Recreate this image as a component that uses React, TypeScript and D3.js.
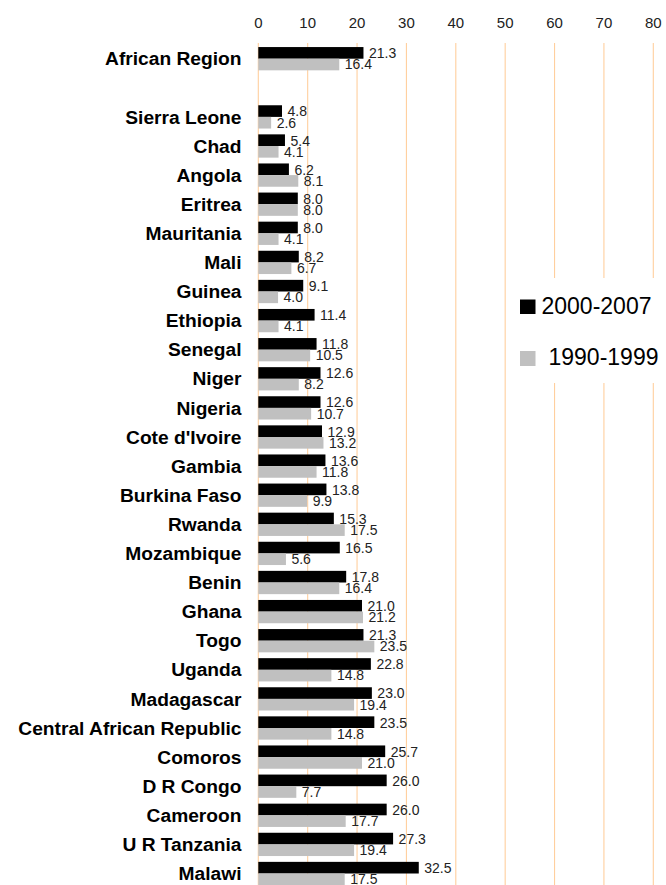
import React from "react";
import * as d3 from "d3";

const categories = [
  "African Region", "", "Sierra Leone", "Chad", "Angola", "Eritrea", "Mauritania", "Mali",
  "Guinea", "Ethiopia", "Senegal", "Niger", "Nigeria", "Cote d'Ivoire", "Gambia",
  "Burkina Faso", "Rwanda", "Mozambique", "Benin", "Ghana", "Togo", "Uganda",
  "Madagascar", "Central African Republic", "Comoros", "D R Congo", "Cameroon",
  "U R Tanzania", "Malawi",
];
const values2000 = [
  21.3, null, 4.8, 5.4, 6.2, 8.0, 8.0, 8.2, 9.1, 11.4, 11.8, 12.6, 12.6, 12.9, 13.6,
  13.8, 15.3, 16.5, 17.8, 21.0, 21.3, 22.8, 23.0, 23.5, 25.7, 26.0, 26.0, 27.3, 32.5,
];
const values1990 = [
  16.4, null, 2.6, 4.1, 8.1, 8.0, 4.1, 6.7, 4.0, 4.1, 10.5, 8.2, 10.7, 13.2, 11.8,
  9.9, 17.5, 5.6, 16.4, 21.2, 23.5, 14.8, 19.4, 14.8, 21.0, 7.7, 17.7, 19.4, 17.5,
];
const xTicks = [0, 10, 20, 30, 40, 50, 60, 70, 80];
const seriesNames = ["2000-2007", "1990-1999"];

const W = 666;
const H = 885;
const FONT = "Liberation Sans, Arial, sans-serif";

export default function App() {
  const x = d3.scaleLinear().domain([0, 80]).range([258.3, 653.3]);
  const keys = categories.map((c, i) => `${i}|${c}`);
  const y = d3
    .scaleBand<string>()
    .domain(keys)
    .range([44.15, 44.15 + 29.1 * categories.length])
    .paddingInner(0.2)
    .paddingOuter(0.1);
  const bw = y.bandwidth();
  const half = bw / 2;

  return (
    <svg
      width={W}
      height={H}
      style={{ position: "absolute", left: 0, top: 0, background: "#fff", fontFamily: FONT }}
    >
      <rect x={0} y={0} width={W} height={H} fill="#fff" />
      {xTicks.map((t) => (
        <g key={t}>
          <line
            x1={x(t)}
            x2={x(t)}
            y1={43}
            y2={H}
            stroke="#FFCF9E"
            strokeWidth={1.1}
          />
          <text x={x(t)} y={28} textAnchor="middle" fontSize={15} fill="#222">
            {t}
          </text>
        </g>
      ))}
      {categories.map((c, i) => {
        if (c === "") return null;
        const y0 = y(keys[i]) as number;
        const v1 = values2000[i] as number;
        const v2 = values1990[i] as number;
        return (
          <g key={keys[i]}>
            <text
              x={241.5}
              y={y0 + half + 6.6}
              textAnchor="end"
              fontSize={19.2}
              fontWeight="bold"
              fill="#000"
            >
              {c}
            </text>
            <rect x={x(0)} y={y0} width={x(v1) - x(0)} height={half} fill="#000" />
            <rect x={x(0)} y={y0 + half} width={x(v2) - x(0)} height={half} fill="#C0C0C0" />
            <text x={x(v1) + 5.5} y={y0 + half - 0.5} fontSize={14} fill="#222">
              {v1.toFixed(1)}
            </text>
            <text x={x(v2) + 5.5} y={y0 + bw - 1} fontSize={14} fill="#222">
              {v2.toFixed(1)}
            </text>
          </g>
        );
      })}
      <g>
        <rect x={512} y={278} width={W - 512} height={105} fill="#fff" />
        <rect x={520} y={299.5} width={15.5} height={14.5} fill="#000" />
        <text x={541.5} y={314} fontSize={23} fill="#000">
          {seriesNames[0]}
        </text>
        <rect x={520} y={351} width={15.5} height={15} fill="#C0C0C0" />
        <text x={548.5} y={365} fontSize={23} fill="#000">
          {seriesNames[1]}
        </text>
      </g>
    </svg>
  );
}
